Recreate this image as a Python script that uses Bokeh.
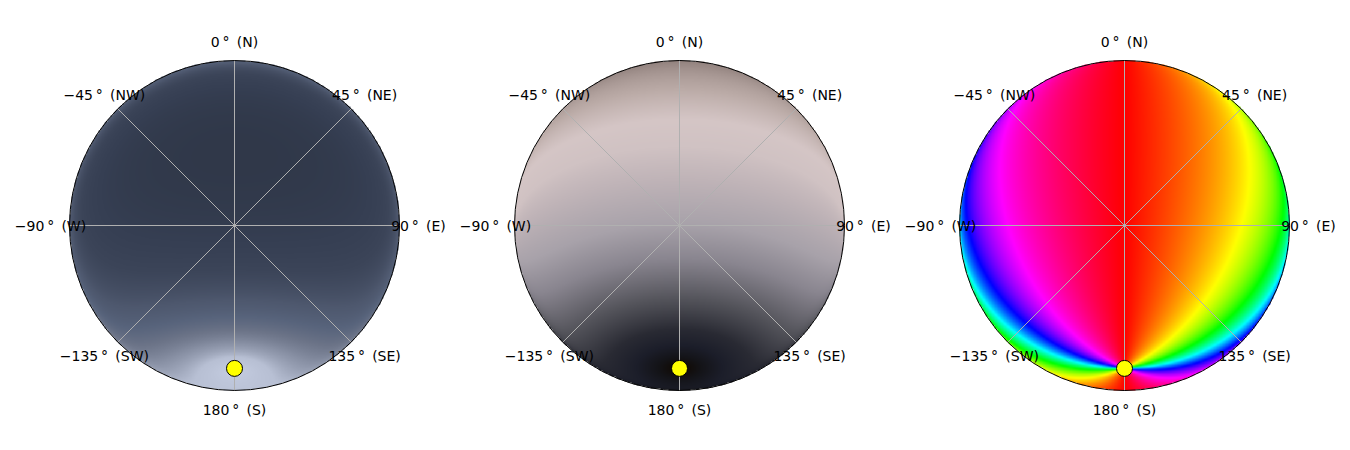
import numpy as np
from bokeh.plotting import figure
from bokeh.models import Range1d
from bokeh.core.properties import value
from bokeh.embed import file_html
from bokeh.resources import INLINE

# ---------------- data ----------------
tick_azimuths = [0, 45, 90, 135, 180, -135, -90, -45]
tick_labels = ["0\u2009\u00b0\u00a0\u2009(N)", "45\u2009\u00b0\u00a0\u2009(NE)", "90\u2009\u00b0\u00a0\u2009(E)",
               "135\u2009\u00b0\u00a0\u2009(SE)", "180\u2009\u00b0\u00a0\u2009(S)",
               "\u2212135\u2009\u00b0\u00a0\u2009(SW)", "\u221290\u2009\u00b0\u00a0\u2009(W)",
               "\u221245\u2009\u00b0\u00a0\u2009(NW)"]
sun_azimuth = 180.0     # degrees, clockwise from north
sun_elevation = 30.0    # degrees above horizon

# CIE clear-sky luminance parameters (panel 1)
cie_a, cie_b, cie_c, cie_d, cie_e = -1.0, -0.32, 10.0, -3.0, 0.45
lum_stops = [0.30, 0.45, 0.60, 0.90, 1.20, 1.60, 2.20, 2.80, 3.40, 5.00]
lum_colors = ["#303849", "#363f53", "#3c4559", "#4e586e", "#58647c",
              "#6c7488", "#8890a4", "#a0a8bc", "#b8c0d4", "#c4cce0"]

# degree-of-polarisation style field (panel 2): colour vs angle from sun
pol_stops = [0, 3, 6, 12, 20, 33, 48, 60, 76, 88, 100, 115, 135, 150, 180]
pol_colors = ["#100c08", "#120e0c", "#141418", "#1c1e2a", "#2a2b34", "#55555c", "#8a8690",
              "#a8a2aa", "#c0b4b8", "#d0c2c3", "#d5c6c6", "#bcaca8", "#9c8c88", "#8c7c78", "#807070"]
horizon_dark_amp, horizon_dark_pow, horizon_dark_width = 0.94, 0.86, 18.0

# ---------------- fields ----------------
N = 440
g = (np.arange(N) + 0.5) / N * 2 - 1
X, Y = np.meshgrid(g, g)
R2 = X ** 2 + Y ** 2
inside = R2 <= 1.0
Z = np.sqrt(np.clip(1 - R2, 0, 1))
ts = np.radians(90 - sun_elevation)
ps = np.radians(sun_azimuth)
S = np.array([np.sin(ts) * np.sin(ps), np.sin(ts) * np.cos(ps), np.cos(ts)])
cosg = np.clip(X * S[0] + Y * S[1] + Z * S[2], -1, 1)
gam = np.arccos(cosg)
gam_deg = np.degrees(gam)
elev = np.degrees(np.arcsin(np.clip(Z, 0, 1)))


def hex_rgb(h):
    h = h.lstrip("#")
    return [int(h[i:i + 2], 16) for i in (0, 2, 4)]


def cmap(vals, stops, colors):
    cols = np.array([hex_rgb(c) for c in colors], dtype=float)
    out = np.zeros(vals.shape + (3,))
    for k in range(3):
        out[..., k] = np.interp(vals, stops, cols[:, k])
    return out


def to_rgba(rgb):
    img = np.zeros((N, N, 4), dtype=np.uint8)
    img[..., :3] = np.clip(rgb, 0, 255).astype(np.uint8)
    img[..., 3] = np.where(inside, 255, 0)
    return img.view(dtype=np.uint32).reshape((N, N))


# panel 1: luminance
cost = np.clip(Z, 1e-4, 1)
L = (1 + cie_a * np.exp(cie_b / cost)) * \
    (1 + cie_c * (np.exp(cie_d * gam) - np.exp(cie_d * np.pi / 2)) + cie_e * cosg ** 2)
img1 = to_rgba(cmap(L, lum_stops, lum_colors))

# panel 2: polarisation-like field
dark = horizon_dark_amp * np.exp(-elev / horizon_dark_width) * np.clip(cosg, 0, 1) ** horizon_dark_pow
gam_eff = gam_deg * (1 - dark)
img2 = to_rgba(cmap(gam_eff, pol_stops, pol_colors))

# panel 3: angle of polarisation (projected e-vector)
ex = Y * S[2] - Z * S[1]
ey = Z * S[0] - X * S[2]
ang = np.degrees(np.arctan2(ey, ex))
hue = ((-ang) % 180.0) / 180.0
h6 = hue * 6.0
i = np.floor(h6).astype(int) % 6
f = h6 - np.floor(h6)
q = 1 - f
t = f
one = np.ones_like(f)
zero = np.zeros_like(f)
r_ = np.choose(i, [one, q, zero, zero, t, one])
g_ = np.choose(i, [t, one, one, q, zero, zero])
b_ = np.choose(i, [zero, zero, t, one, one, q])
img3 = to_rgba(np.stack([r_, g_, b_], axis=-1) * 255)

# ---------------- plotting ----------------
W, H = 1345, 442
CX, CY = 234, 225          # pixel position of first panel centre
PX = 165.0                 # pixels per unit radius
SPACING = 445 / PX         # distance between panel centres (data units)
label_r = 184 / PX

p = figure(width=W, height=H, output_backend="svg", toolbar_location=None,
           x_range=Range1d(-CX / PX, (W - CX) / PX),
           y_range=Range1d(-(H - CY) / PX, CY / PX),
           min_border=0, background_fill_color="white", border_fill_color="white")
p.axis.visible = False
p.grid.visible = False
p.outline_line_color = None

az = np.radians(tick_azimuths)
for k, img in enumerate([img1, img2, img3]):
    ox = k * SPACING
    p.image_rgba(image=[img], x=ox - 1, y=-1, dw=2, dh=2)
    p.segment(x0=[ox] * len(az), y0=[0] * len(az), x1=list(ox + np.sin(az)), y1=list(np.cos(az)),
              line_color="#b0b0b0", line_width=1)
    p.circle(x=[ox], y=[0], radius=1, fill_color=None, line_color="black", line_width=1)
    p.scatter(x=[ox + float(S[0])], y=[float(S[1])], size=16, fill_color="yellow",
              line_color="black", line_width=1)
    p.text(x=list(ox + label_r * np.sin(az)), y=list(label_r * np.cos(az)), text=tick_labels,
           text_align="center", text_baseline="middle", text_color="black",
           text_font=value("DejaVu Sans"), text_font_size="14px")

open("out.html", "w").write(file_html(p, INLINE))
